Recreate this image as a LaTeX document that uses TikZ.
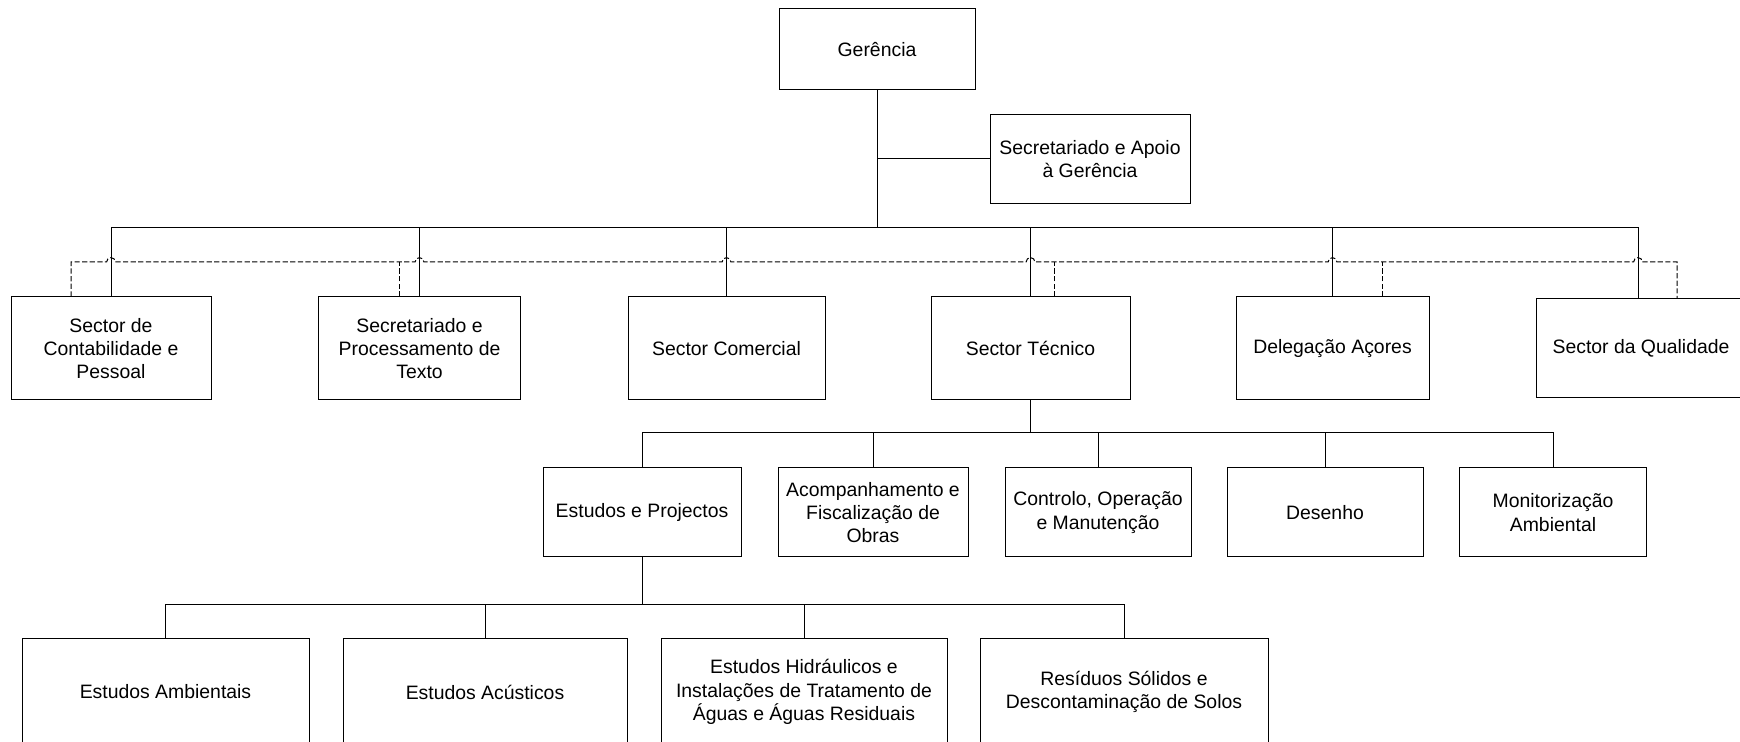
\documentclass[tikz,border=0pt]{standalone}
\usepackage{fontspec}
\setmainfont{Liberation Sans}
\begin{document}
\begin{tikzpicture}[x=0.5pt,y=-0.5pt,
  box/.style={draw,line width=0.5pt,align=center,inner sep=0pt,
    font=\fontsize{9.7pt}{11.65pt}\selectfont},
  link/.style={line width=0.5pt},
  dashline/.style={line width=0.5pt,dash pattern=on 2.6pt off 1.2pt}]
\useasboundingbox (0,0) rectangle (1740,742);
% top
\node[box,minimum width=98pt,minimum height=40.5pt] (ger) at (877,49.5) {Gerência};
\node[box,minimum width=100pt,minimum height=44.5pt] (sag) at (1090,159) {Secretariado e Apoio\\à Gerência};
% level 1
\node[box,minimum width=100pt,minimum height=51.5pt] (cont) at (111,348.5) {Sector de\\Contabilidade e\\Pessoal};
\node[box,minimum width=101pt,minimum height=51.5pt] (spt) at (419.5,348.5) {Secretariado e\\Processamento de\\Texto};
\node[box,minimum width=98.5pt,minimum height=51.5pt] (com) at (726.5,348.5) {Sector Comercial};
\node[box,minimum width=99.5pt,minimum height=51.5pt] (tec) at (1030.5,348.5) {Sector Técnico};
\node[box,minimum width=96.5pt,minimum height=51.5pt] (del) at (1332.5,348.5) {Delegação Açores};
\node[box,minimum width=105pt,minimum height=49.5pt] (qual) at (1641,348.5) {Sector da Qualidade};
% level 2
\node[box,minimum width=99pt,minimum height=44.5pt] (ep) at (642,512.5) {Estudos e Projectos};
\node[box,minimum width=95pt,minimum height=44.5pt] (acf) at (873,512.5) {Acompanhamento e\\Fiscalização de\\Obras};
\node[box,minimum width=93pt,minimum height=44.5pt] (cop) at (1098,512.5) {Controlo, Operação\\e Manutenção};
\node[box,minimum width=98pt,minimum height=44.5pt] (des) at (1325,512.5) {Desenho};
\node[box,minimum width=93.5pt,minimum height=44.5pt] (mon) at (1553,512.5) {Monitorização\\Ambiental};
% level 3
\node[box,minimum width=143.5pt,minimum height=53pt] (amb) at (165.5,692) {Estudos Ambientais};
\node[box,minimum width=142pt,minimum height=53pt] (acu) at (485,692) {Estudos Acústicos};
\node[box,minimum width=143pt,minimum height=53pt] (hid) at (804,692) {Estudos Hidráulicos e\\Instalações de Tratamento de\\Águas e Águas Residuais};
\node[box,minimum width=144pt,minimum height=53pt] (res) at (1124,692) {Resíduos Sólidos e\\Descontaminação de Solos};
% bus coordinates
\coordinate (bus) at (0,228);
\coordinate (busR) at (1638,228);
\coordinate (dl) at (0,262);
\coordinate (tb) at (0,433);
\coordinate (eb) at (0,605);
% top connectors
\draw[link] (ger.south) -- (ger.south |- bus);
\draw[link] (ger.south |- sag.west) -- (sag.west);
\draw[link] (cont.north) -- (cont.north |- bus) -- (busR) -- (busR |- qual.north);
\draw[link] (spt.north) -- (spt.north |- bus);
\draw[link] (com.north) -- (com.north |- bus);
\draw[link] (tec.north) -- (tec.north |- bus);
\draw[link] (del.north) -- (del.north |- bus);
% dashed line with jumps
\draw[dashline] ([xshift=-20pt]cont.north) -- ([xshift=-20pt]cont.north |- dl)
  -- ([xshift=-2.2pt]cont.north |- dl) arc[start angle=180,end angle=0,radius=2.2pt]
  -- ([xshift=-2.2pt]spt.north |- dl) arc[start angle=180,end angle=0,radius=2.2pt]
  -- ([xshift=-2.2pt]com.north |- dl) arc[start angle=180,end angle=0,radius=2.2pt]
  -- ([xshift=-2.2pt]tec.north |- dl) arc[start angle=180,end angle=0,radius=2.2pt]
  -- ([xshift=-2.2pt]del.north |- dl) arc[start angle=180,end angle=0,radius=2.2pt]
  -- ([xshift=-2.2pt]busR |- dl) arc[start angle=180,end angle=0,radius=2.2pt]
  -- ([xshift=19.5pt]busR |- dl) -- ([xshift=19.5pt]busR |- qual.north);
\draw[dashline] ([xshift=-10pt]spt.north) -- ([xshift=-10pt]spt.north |- dl);
\draw[dashline] ([xshift=11.75pt]tec.north) -- ([xshift=11.75pt]tec.north |- dl);
\draw[dashline] ([xshift=24.75pt]del.north) -- ([xshift=24.75pt]del.north |- dl);
% technical subtree
\draw[link] (tec.south) -- (tec.south |- tb);
\draw[link] (ep.north) -- (ep.north |- tb) -- (mon.north |- tb) -- (mon.north);
\draw[link] (acf.north) -- (acf.north |- tb);
\draw[link] (cop.north) -- (cop.north |- tb);
\draw[link] (des.north) -- (des.north |- tb);
% studies subtree
\draw[link] (ep.south) -- (ep.south |- eb);
\draw[link] (amb.north) -- (amb.north |- eb) -- (res.north |- eb) -- (res.north);
\draw[link] (acu.north) -- (acu.north |- eb);
\draw[link] (hid.north) -- (hid.north |- eb);
\end{tikzpicture}
\end{document}
